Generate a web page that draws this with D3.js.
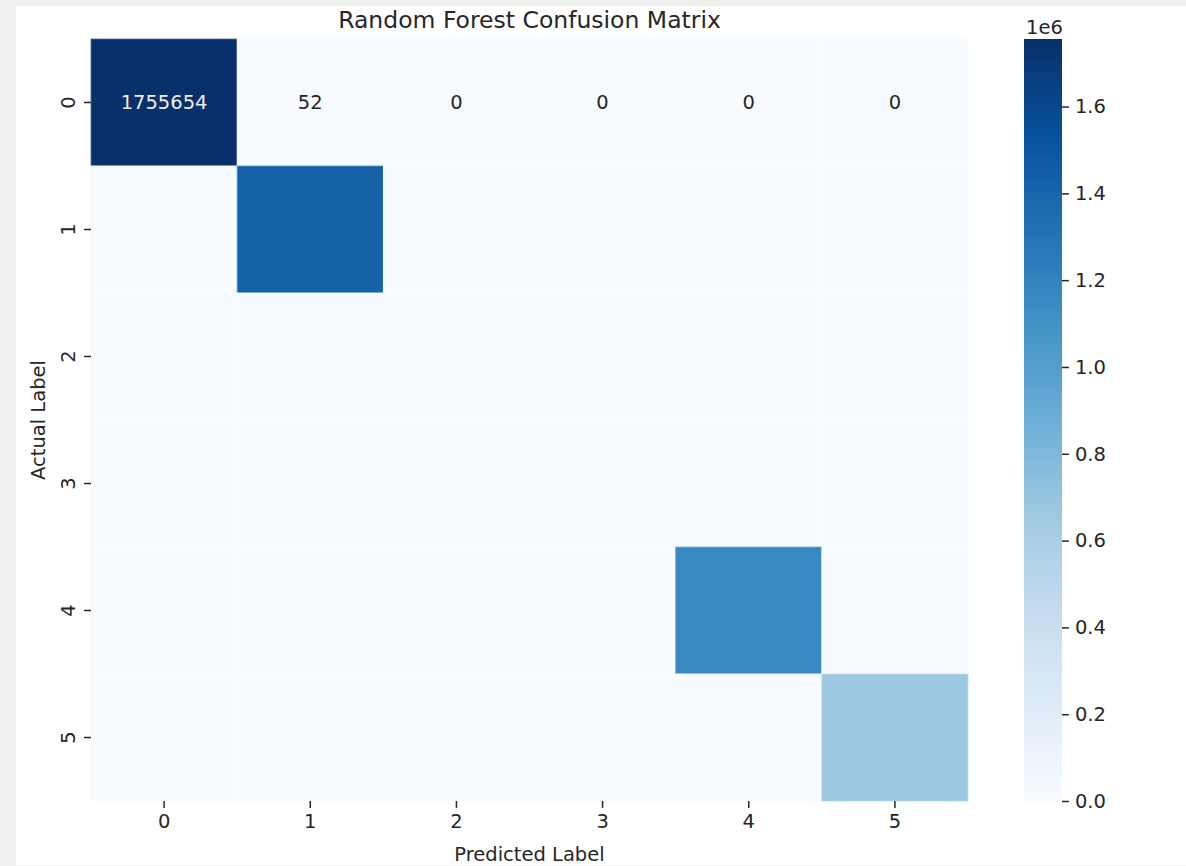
<!DOCTYPE html>
<html lang="en">
<head>
  <meta charset="UTF-8">
  <title>Random Forest Confusion Matrix</title>
  <style>
    body {
      margin: 0;
      padding: 0;
      background-color: #eff1ef;
    }
    svg text {
      font-family: 'DejaVu Sans', Arial, sans-serif;
      fill: #262626;
    }
  </style>
</head>
<body>

<svg id="chart" width="1186" height="866"></svg>

<script src="https://d3js.org/d3.v7.min.js"></script>
<script>
  // class labels and counts (rows = actual, columns = predicted)
  const classLabels = ["0", "1", "2", "3", "4", "5"];
  const counts = [
    [1755654, 52, 0, 0, 0, 0],
    [0, 1420000, 0, 0, 0, 0],
    [0, 0, 0, 0, 0, 0],
    [0, 0, 0, 0, 0, 0],
    [0, 0, 0, 0, 1163000, 0],
    [0, 0, 0, 0, 0, 667000]
  ];
  // only the first row carries annotations in the original figure
  const annotatedRows = [0];
  const colorbarTicks = [0, 200000, 400000, 600000, 800000, 1000000, 1200000, 1400000, 1600000];

  const width = 1186, height = 866;
  const plot = { left: 91, top: 39, right: 968, bottom: 801 };
  const cbar = { left: 1024, right: 1062 };

  const svg = d3.select("#chart");

  // panel background
  svg.append("rect")
    .attr("x", 16).attr("y", 6)
    .attr("width", width - 16).attr("height", height - 7)
    .attr("fill", "#ffffff");

  const vmax = d3.max(counts.flat());

  // matplotlib "Blues" is a linear ramp over the 9 ColorBrewer stops
  const blues = d3.schemeBlues[9];
  const color = d3.scaleLinear()
    .domain(blues.map((c, i) => vmax * i / (blues.length - 1)))
    .range(blues)
    .interpolate(d3.interpolateRgb);

  const x = d3.scaleBand().domain(classLabels).range([plot.left, plot.right]);
  const y = d3.scaleBand().domain(classLabels).range([plot.top, plot.bottom]);

  const cells = [];
  counts.forEach((row, i) => row.forEach((v, j) => {
    cells.push({ actual: classLabels[i], predicted: classLabels[j], row: i, value: v });
  }));

  svg.append("g")
    .selectAll("rect")
    .data(cells)
    .enter()
    .append("rect")
    .attr("x", d => x(d.predicted))
    .attr("y", d => y(d.actual))
    .attr("width", x.bandwidth())
    .attr("height", y.bandwidth())
    .attr("fill", d => color(d.value))
    .attr("stroke", d => d3.interpolateRgb(color(d.value), "#ffffff")(0.3))
    .attr("stroke-width", 0.8);

  // annotations
  svg.append("g")
    .selectAll("text")
    .data(cells.filter(d => annotatedRows.includes(d.row)))
    .enter()
    .append("text")
    .attr("x", d => x(d.predicted) + x.bandwidth() / 2)
    .attr("y", d => y(d.actual) + y.bandwidth() / 2)
    .attr("text-anchor", "middle")
    .attr("dominant-baseline", "central")
    .style("font-size", "19.5px")
    .style("fill", d => d3.hsl(color(d.value)).l < 0.45 ? "#eeeeee" : "#262626")
    .text(d => d.value);

  // x axis
  const xAxis = svg.append("g")
    .attr("transform", `translate(0,${plot.bottom})`)
    .call(d3.axisBottom(x).tickSize(6.9).tickPadding(6));
  xAxis.select(".domain").remove();
  xAxis.selectAll(".tick line").attr("stroke", "#262626").attr("stroke-width", 1.5);
  xAxis.selectAll(".tick text").style("font-size", "19.5px").attr("fill", null);

  // y axis, vertical tick labels
  const yAxis = svg.append("g")
    .attr("transform", `translate(${plot.left},0)`)
    .call(d3.axisLeft(y).tickSize(6.9).tickPadding(6));
  yAxis.select(".domain").remove();
  yAxis.selectAll(".tick line").attr("stroke", "#262626").attr("stroke-width", 1.5);
  yAxis.selectAll(".tick text")
    .style("font-size", "19.5px")
    .attr("fill", null)
    .attr("x", null).attr("dy", null)
    .attr("text-anchor", "middle")
    .attr("transform", "translate(-16,0) rotate(-90)");

  // titles
  svg.append("text")
    .attr("x", (plot.left + plot.right) / 2)
    .attr("y", 28)
    .attr("text-anchor", "middle")
    .style("font-size", "23.5px")
    .text("Random Forest Confusion Matrix");

  svg.append("text")
    .attr("x", (plot.left + plot.right) / 2)
    .attr("y", 861)
    .attr("text-anchor", "middle")
    .style("font-size", "19.5px")
    .text("Predicted Label");

  svg.append("text")
    .attr("transform", `translate(45,${(plot.top + plot.bottom) / 2}) rotate(-90)`)
    .attr("text-anchor", "middle")
    .style("font-size", "19.5px")
    .text("Actual Label");

  // colorbar
  const defs = svg.append("defs");
  const grad = defs.append("linearGradient")
    .attr("id", "cbar-grad")
    .attr("x1", 0).attr("y1", 1).attr("x2", 0).attr("y2", 0);
  grad.selectAll("stop")
    .data(blues)
    .enter()
    .append("stop")
    .attr("offset", (d, i) => i / (blues.length - 1))
    .attr("stop-color", d => d);

  const cy = d3.scaleLinear().domain([0, vmax]).range([plot.bottom, plot.top]);

  svg.append("rect")
    .attr("x", cbar.left).attr("y", plot.top)
    .attr("width", cbar.right - cbar.left)
    .attr("height", plot.bottom - plot.top)
    .attr("fill", "url(#cbar-grad)");

  const cAxis = svg.append("g")
    .attr("transform", `translate(${cbar.right},0)`)
    .call(d3.axisRight(cy).tickValues(colorbarTicks).tickFormat(d => (d / 1e6).toFixed(1)).tickSize(6.9).tickPadding(6));
  cAxis.select(".domain").remove();
  cAxis.selectAll(".tick line").attr("stroke", "#262626").attr("stroke-width", 1.5);
  cAxis.selectAll(".tick text").style("font-size", "19.5px").attr("fill", null);

  svg.append("text")
    .attr("x", 1026)
    .attr("y", 34)
    .style("font-size", "19.5px")
    .text("1e6");
</script>

</body>
</html>
